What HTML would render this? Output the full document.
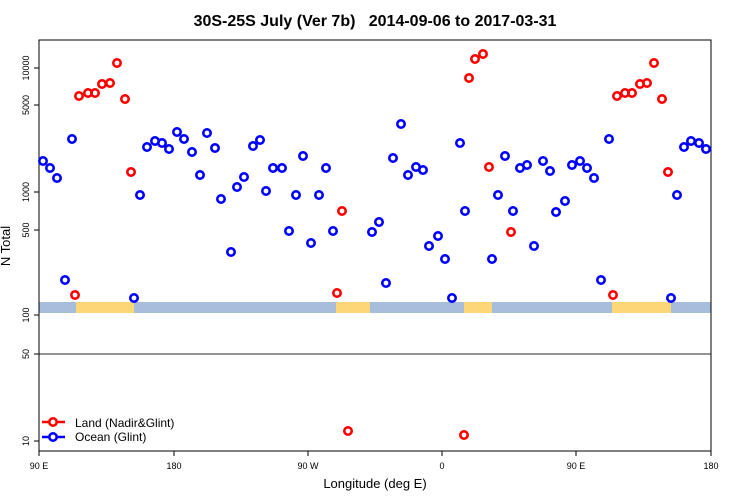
<!DOCTYPE html>
<html><head><style>body{margin:0;background:#fff}svg{display:block}</style></head><body>
<svg width="750" height="500" xmlns="http://www.w3.org/2000/svg" font-family="Liberation Sans, sans-serif">
<rect width="750" height="500" fill="#fff"/>
<text x="375" y="26" text-anchor="middle" font-size="16" font-weight="bold" style="white-space:pre" xml:space="preserve">30S-25S July (Ver 7b)   2014-09-06 to 2017-03-31</text>
<rect x="39" y="302" width="672" height="11" fill="#a6bddb"/>
<g fill="#fdd677">
<rect x="76" y="302" width="58" height="11"/>
<rect x="336" y="302" width="34" height="11"/>
<rect x="464" y="302" width="28" height="11"/>
<rect x="612" y="302" width="59" height="11"/>
</g>
<line x1="39" y1="354" x2="711" y2="354" stroke="#555" stroke-width="1.2"/>
<rect x="39" y="40" width="672" height="411" fill="none" stroke="#000" stroke-width="1"/>
<g font-size="9" text-anchor="middle">
<text transform="translate(29,68) rotate(-90)">10000</text>
<text transform="translate(29,105) rotate(-90)">5000</text>
<text transform="translate(29,192) rotate(-90)">1000</text>
<text transform="translate(29,230) rotate(-90)">500</text>
<text transform="translate(29,315) rotate(-90)">100</text>
<text transform="translate(29,354) rotate(-90)">50</text>
<text transform="translate(29,441) rotate(-90)">10</text>
</g>
<g stroke="#000"><line x1="34" y1="68" x2="39" y2="68"/><line x1="34" y1="105" x2="39" y2="105"/><line x1="34" y1="192" x2="39" y2="192"/><line x1="34" y1="230" x2="39" y2="230"/><line x1="34" y1="315" x2="39" y2="315"/><line x1="34" y1="354" x2="39" y2="354"/><line x1="34" y1="441" x2="39" y2="441"/>
<line x1="39" y1="451" x2="39" y2="456"/><line x1="174" y1="451" x2="174" y2="456"/><line x1="308" y1="451" x2="308" y2="456"/><line x1="442" y1="451" x2="442" y2="456"/><line x1="576" y1="451" x2="576" y2="456"/><line x1="711" y1="451" x2="711" y2="456"/></g>
<g font-size="9" text-anchor="middle">
<text x="39" y="469">90 E</text><text x="174" y="469">180</text><text x="308" y="469">90 W</text><text x="442" y="469">0</text><text x="576" y="469">90 E</text><text x="711" y="469">180</text>
</g>
<text x="375" y="488" text-anchor="middle" font-size="13">Longitude (deg E)</text>
<text transform="translate(10,246) rotate(-90)" text-anchor="middle" font-size="13">N Total</text>
<g fill="none" stroke="#00f" stroke-width="2.6">
<circle cx="43" cy="161" r="3.7"/><circle cx="50" cy="168" r="3.7"/><circle cx="57" cy="178" r="3.7"/><circle cx="65" cy="280" r="3.7"/><circle cx="72" cy="139" r="3.7"/><circle cx="134" cy="298" r="3.7"/><circle cx="140" cy="195" r="3.7"/><circle cx="147" cy="147" r="3.7"/><circle cx="155" cy="141" r="3.7"/><circle cx="162" cy="143" r="3.7"/><circle cx="169" cy="149" r="3.7"/><circle cx="177" cy="132" r="3.7"/><circle cx="184" cy="139" r="3.7"/><circle cx="192" cy="152" r="3.7"/><circle cx="200" cy="175" r="3.7"/><circle cx="207" cy="133" r="3.7"/><circle cx="215" cy="148" r="3.7"/><circle cx="221" cy="199" r="3.7"/><circle cx="231" cy="252" r="3.7"/><circle cx="237" cy="187" r="3.7"/><circle cx="244" cy="177" r="3.7"/><circle cx="253" cy="146" r="3.7"/><circle cx="260" cy="140" r="3.7"/><circle cx="266" cy="191" r="3.7"/><circle cx="273" cy="168" r="3.7"/><circle cx="282" cy="168" r="3.7"/><circle cx="289" cy="231" r="3.7"/><circle cx="296" cy="195" r="3.7"/><circle cx="303" cy="156" r="3.7"/><circle cx="311" cy="243" r="3.7"/><circle cx="319" cy="195" r="3.7"/><circle cx="326" cy="168" r="3.7"/><circle cx="333" cy="231" r="3.7"/><circle cx="372" cy="232" r="3.7"/><circle cx="379" cy="222" r="3.7"/><circle cx="386" cy="283" r="3.7"/><circle cx="393" cy="158" r="3.7"/><circle cx="401" cy="124" r="3.7"/><circle cx="408" cy="175" r="3.7"/><circle cx="416" cy="167" r="3.7"/><circle cx="423" cy="170" r="3.7"/><circle cx="429" cy="246" r="3.7"/><circle cx="438" cy="236" r="3.7"/><circle cx="445" cy="259" r="3.7"/><circle cx="452" cy="298" r="3.7"/><circle cx="460" cy="143" r="3.7"/><circle cx="465" cy="211" r="3.7"/><circle cx="492" cy="259" r="3.7"/><circle cx="498" cy="195" r="3.7"/><circle cx="505" cy="156" r="3.7"/><circle cx="513" cy="211" r="3.7"/><circle cx="520" cy="168" r="3.7"/><circle cx="527" cy="165" r="3.7"/><circle cx="534" cy="246" r="3.7"/><circle cx="543" cy="161" r="3.7"/><circle cx="550" cy="171" r="3.7"/><circle cx="556" cy="212" r="3.7"/><circle cx="565" cy="201" r="3.7"/><circle cx="572" cy="165" r="3.7"/><circle cx="580" cy="161" r="3.7"/><circle cx="587" cy="168" r="3.7"/><circle cx="594" cy="178" r="3.7"/><circle cx="601" cy="280" r="3.7"/><circle cx="609" cy="139" r="3.7"/><circle cx="671" cy="298" r="3.7"/><circle cx="677" cy="195" r="3.7"/><circle cx="684" cy="147" r="3.7"/><circle cx="691" cy="141" r="3.7"/><circle cx="699" cy="143" r="3.7"/><circle cx="706" cy="149" r="3.7"/>
</g>
<g fill="none" stroke="#f00" stroke-width="2.6">
<circle cx="75" cy="295" r="3.7"/><circle cx="79" cy="96" r="3.7"/><circle cx="88" cy="93" r="3.7"/><circle cx="95" cy="93" r="3.7"/><circle cx="102" cy="84" r="3.7"/><circle cx="110" cy="83" r="3.7"/><circle cx="117" cy="63" r="3.7"/><circle cx="125" cy="99" r="3.7"/><circle cx="131" cy="172" r="3.7"/><circle cx="337" cy="293" r="3.7"/><circle cx="342" cy="211" r="3.7"/><circle cx="348" cy="431" r="3.7"/><circle cx="464" cy="435" r="3.7"/><circle cx="469" cy="78" r="3.7"/><circle cx="475" cy="59" r="3.7"/><circle cx="483" cy="54" r="3.7"/><circle cx="489" cy="167" r="3.7"/><circle cx="511" cy="232" r="3.7"/><circle cx="613" cy="295" r="3.7"/><circle cx="617" cy="96" r="3.7"/><circle cx="625" cy="93" r="3.7"/><circle cx="632" cy="93" r="3.7"/><circle cx="640" cy="84" r="3.7"/><circle cx="647" cy="83" r="3.7"/><circle cx="654" cy="63" r="3.7"/><circle cx="662" cy="99" r="3.7"/><circle cx="668" cy="172" r="3.7"/>
</g>
<line x1="42" y1="422" x2="65" y2="422" stroke="#f00" stroke-width="2.6"/><circle cx="53" cy="422" r="3.7" fill="#fff" stroke="#f00" stroke-width="2.6"/>
<line x1="42" y1="437" x2="65" y2="437" stroke="#00f" stroke-width="2.6"/><circle cx="53" cy="437" r="3.7" fill="#fff" stroke="#00f" stroke-width="2.6"/>
<text x="75" y="427" font-size="12">Land (Nadir&amp;Glint)</text>
<text x="75" y="441" font-size="12">Ocean (Glint)</text>
</svg>
</body></html>
